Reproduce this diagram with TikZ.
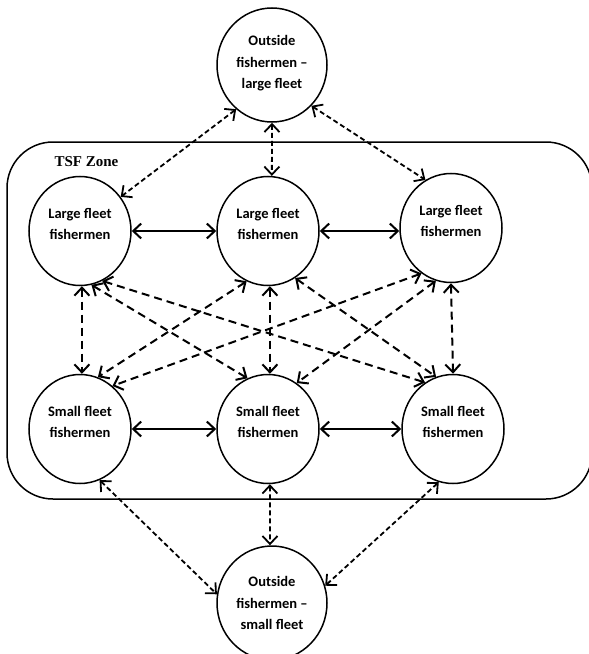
\documentclass[tikz,border=0pt]{standalone}
\usepackage{fontspec}
\setmainfont{Carlito}
\newfontfamily\tsffont{Liberation Serif}
\usetikzlibrary{arrows.meta,shapes.geometric}
\tikzset{
  fnode/.style={draw,ellipse,line width=1.5bp,minimum width=102bp,minimum height=109bp,inner sep=0pt},
  onode/.style={draw,ellipse,line width=1.5bp,minimum width=110bp,minimum height=114bp,inner sep=0pt},
  ftext/.style={align=center,font=\fontsize{14.5bp}{21.5bp}\selectfont\bfseries,inner sep=0pt},
  tip/.style={{Straight Barb[length=8bp,width=15bp]}-{Straight Barb[length=8bp,width=15bp]}},
  solidarr/.style={tip,line width=2bp},
  crossarr/.style={tip,line width=2bp,dash pattern=on 8bp off 5bp},
  outarr/.style={tip,line width=1.8bp,dash pattern=on 5bp off 3bp},
}
\begin{document}
\begin{tikzpicture}[x=1bp,y=-1bp]
\useasboundingbox (0,0) rectangle (589,654);
% zone
\draw[line width=1.5bp,rounded corners=46bp] (7,142) rectangle (592,499);
\node[font=\tsffont\fontsize{15bp}{17bp}\selectfont\bfseries,anchor=west] (zone) at (51,162) {TSF Zone};
% nodes
\node[onode] (T) at (272,65) {};
\node[ftext] (Tt) at (272,63.5) {Outside\\fishermen --\\large fleet};
\node[fnode] (L1) at (80,231) {};
\node[ftext] (L1t) at (80,224) {Large fleet\\fishermen};
\node[fnode] (L2) at (268,231) {};
\node[ftext] (L2t) at (268,224) {Large fleet\\fishermen};
\node[fnode] (L3) at (451,228) {};
\node[ftext] (L3t) at (451,221) {Large fleet\\fishermen};
\node[fnode] (S1) at (80,429) {};
\node[ftext] (S1t) at (80,422) {Small fleet\\fishermen};
\node[fnode] (S2) at (268,429) {};
\node[ftext] (S2t) at (268,422) {Small fleet\\fishermen};
\node[fnode] (S3) at (453,429) {};
\node[ftext] (S3t) at (453,422) {Small fleet\\fishermen};
\node[onode] (B) at (272,603) {};
\node[ftext] (Bt) at (272,603) {Outside\\fishermen --\\small fleet};
% solid
\draw[solidarr] (L1.0) -- (L2.180);
\draw[solidarr] (L2.0) -- (L2.0 -| L3.west);
\draw[solidarr] (S1.0) -- (S2.180);
\draw[solidarr] (S2.0) -- (S3.180);
% top
\draw[outarr] (T.231) -- (L1.40);
\draw[outarr] (T.270) -- (L2.86);
\draw[outarr] (T.314) -- (L3.118);
% vertical
\draw[crossarr] (L1.272) -- (S1.88);
\draw[crossarr] (L2.272) -- (S2.88);
\draw[crossarr] (L3.270) -- (S3.90);
% cross
\draw[crossarr] (L1.282) -- (S2.112);
\draw[crossarr] (L1.294) -- (S3.121);
\draw[crossarr] (L2.247) -- (S1.71);
\draw[crossarr] (L2.300) -- (S3.108);
\draw[crossarr] (L3.237) -- (S1.53);
\draw[crossarr] (L3.254) -- (S2.58);
% bottom
\draw[outarr] (S1.291) -- (B.171);
\draw[outarr] (S2.272) -- (B.92);
\draw[outarr] (S3.255) -- (B.18);
\end{tikzpicture}
\end{document}
